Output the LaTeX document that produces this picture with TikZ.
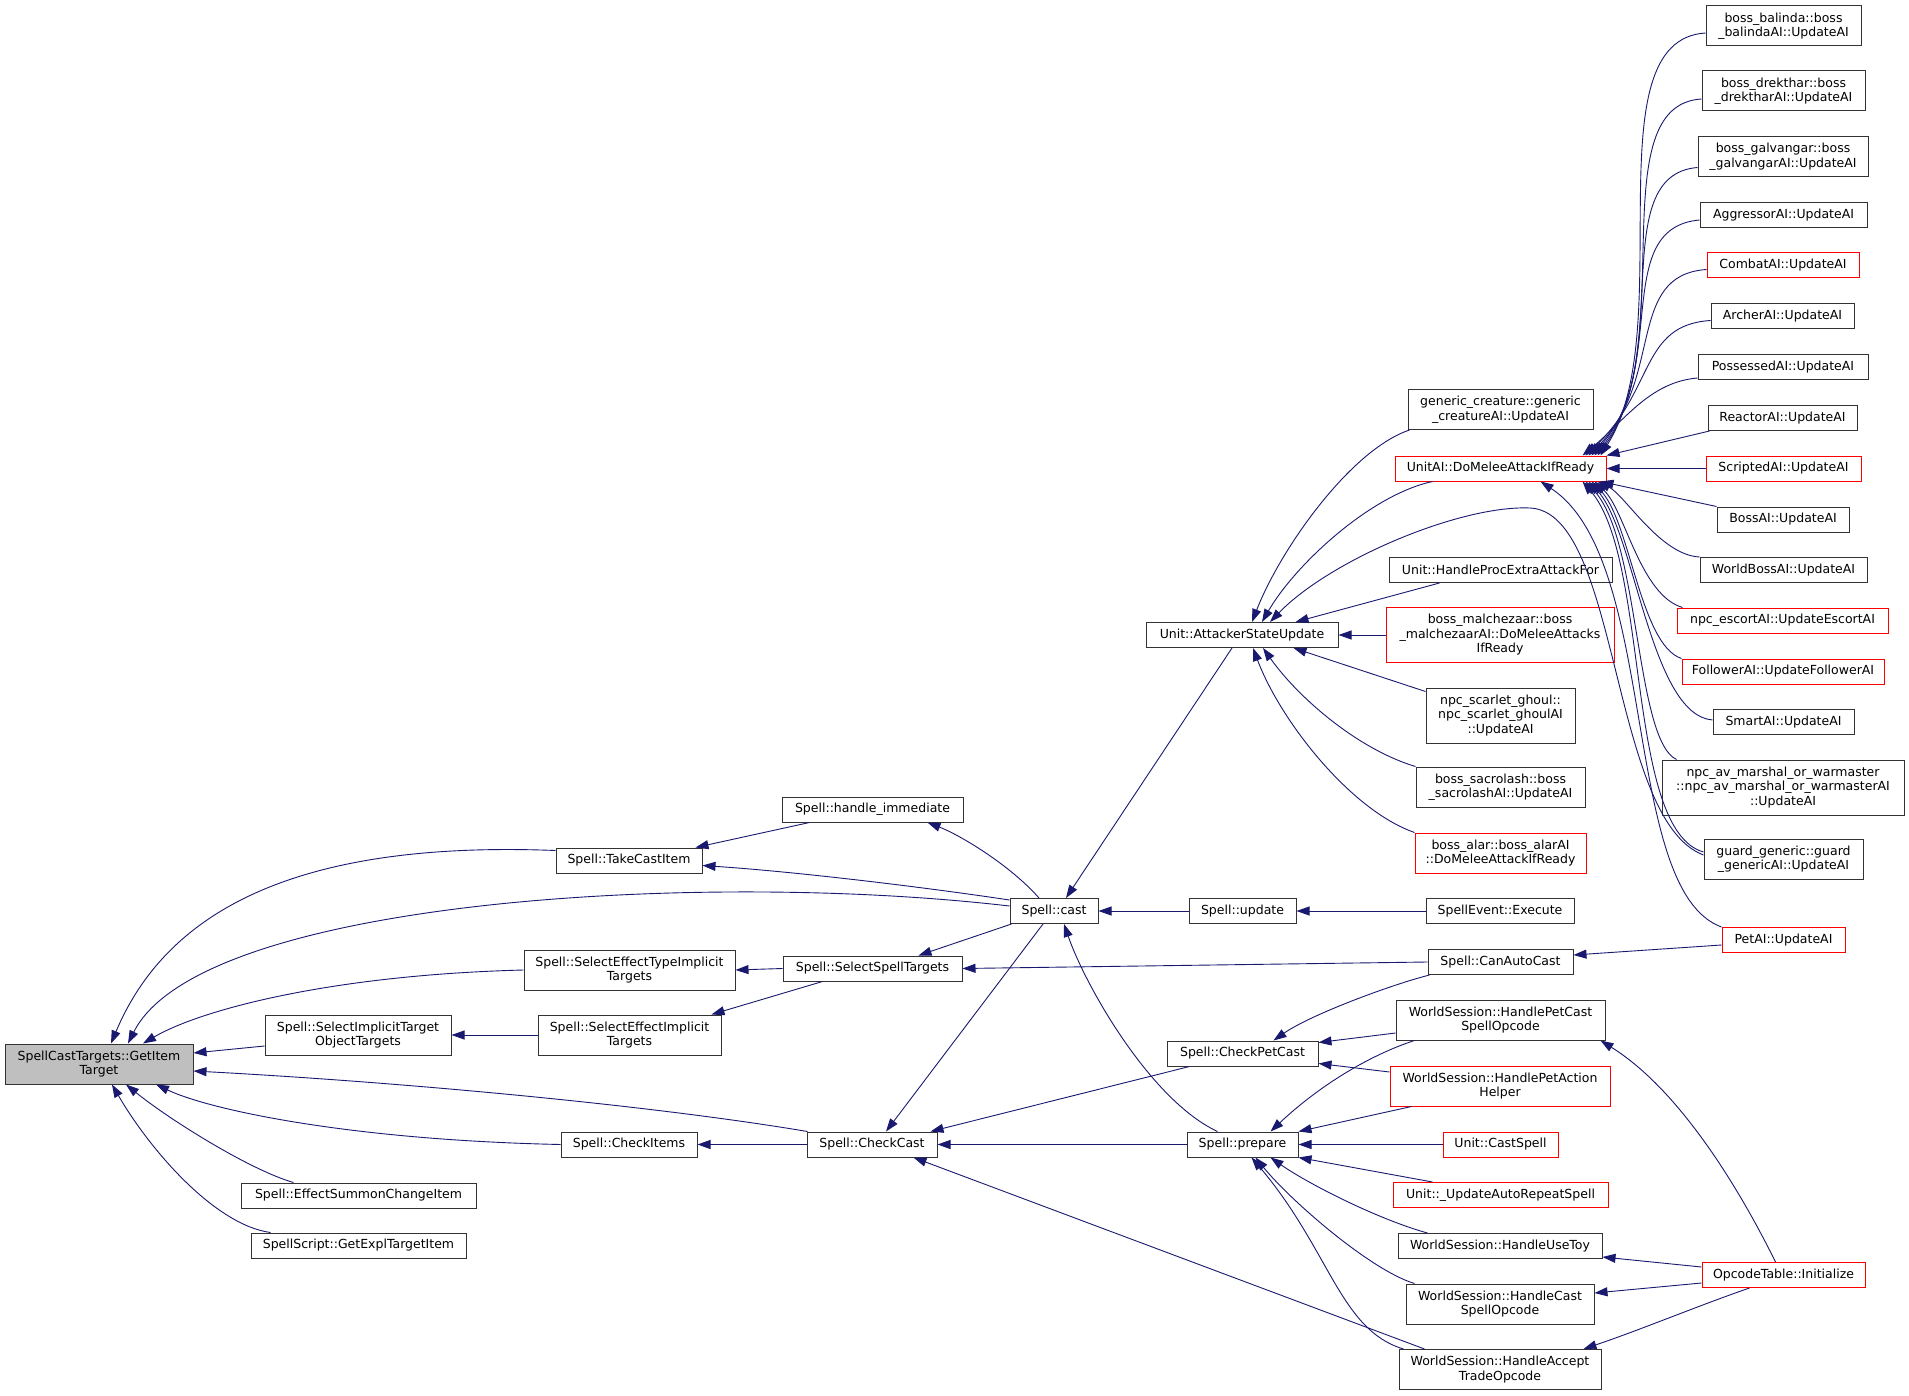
\documentclass[tikz,border=0pt]{standalone}
\usepackage{fontspec}
\setmainfont{DejaVu Sans}
\usetikzlibrary{arrows.meta}
\definecolor{edgeblue}{RGB}{25,25,112}
\tikzstyle{block} = [draw=black!80, line width=1pt, rectangle, minimum height=25pt, inner sep=0pt, align=center, font=\fontsize{12.5}{14.5}\selectfont]
\tikzstyle{redblock} = [block, draw=red]
\tikzstyle{rootblock} = [block, fill=black!25]
\tikzstyle{twoline} = [minimum height=40pt]
\tikzstyle{threeline} = [minimum height=55pt]
\tikzstyle{call} = [<-, draw=edgeblue, line width=0.9pt]

\begin{document}
\begin{tikzpicture}[x=1pt, y=1pt, >={Triangle[length=13pt,width=9pt]}]
        \useasboundingbox (0,0) rectangle (1909,-1396);
        \fill [white] (0,0) rectangle (1909,-1396);
        % 被调用的函数
        \node [rootblock, twoline, minimum width=188pt] (main) at (99,-1064) {SpellCastTargets::GetItem\\Target};
        % 第一层调用者
        \node [block, twoline, minimum width=186pt] (sito) at (358,-1035) {Spell::SelectImplicitTarget\\ObjectTargets};
        \node [block, minimum width=235pt] (summon) at (358.5,-1195.5) {Spell::EffectSummonChangeItem};
        \node [block, minimum width=215pt] (expl) at (358.5,-1245.5) {SpellScript::GetExplTargetItem};
        \node [block, minimum width=146pt] (take) at (629,-860.5) {Spell::TakeCastItem};
        \node [block, twoline, minimum width=211pt] (seti) at (629.5,-970) {Spell::SelectEffectTypeImplicit\\Targets};
        \node [block, twoline, minimum width=183pt] (sei) at (629.5,-1035) {Spell::SelectEffectImplicit\\Targets};
        \node [block, minimum width=136pt] (items) at (629,-1144.5) {Spell::CheckItems};
        % 第二层调用者
        \node [block, minimum width=181pt] (handle) at (872.5,-809.5) {Spell::handle\_immediate};
        \node [block, minimum width=179pt] (sst) at (872.5,-968.5) {Spell::SelectSpellTargets};
        \node [block, minimum width=130pt] (checkcast) at (872,-1144.5) {Spell::CheckCast};
        \node [block, minimum width=88pt] (cast) at (1054,-911) {Spell::cast};
        % 第三层调用者
        \node [block, minimum width=192pt] (asu) at (1242,-635) {Unit::AttackerStateUpdate};
        \node [block, minimum width=107pt] (update) at (1242.5,-911) {Spell::update};
        \node [block, minimum width=151pt] (cpc) at (1242.5,-1053.5) {Spell::CheckPetCast};
        \node [block, minimum width=111pt] (prepare) at (1242.5,-1144.5) {Spell::prepare};
        % 第四层调用者
        \node [block, twoline, minimum width=185pt] (gc) at (1500.5,-409.5) {generic\_creature::generic\\\_creatureAI::UpdateAI};
        \node [redblock, minimum width=211pt] (dma) at (1500.5,-468.5) {UnitAI::DoMeleeAttackIfReady};
        \node [block, minimum width=223pt] (hpe) at (1500.5,-570) {Unit::HandleProcExtraAttackFor};
        \node [redblock, threeline, minimum width=228pt] (malc) at (1500,-635) {boss\_malchezaar::boss\\\_malchezaarAI::DoMeleeAttacks\\IfReady};
        \node [block, threeline, minimum width=149pt] (ghoul) at (1500.5,-715.5) {npc\_scarlet\_ghoul::\\npc\_scarlet\_ghoulAI\\::UpdateAI};
        \node [block, twoline, minimum width=169pt] (sacro) at (1500.5,-787) {boss\_sacrolash::boss\\\_sacrolashAI::UpdateAI};
        \node [redblock, twoline, minimum width=171pt] (alar) at (1500.5,-853) {boss\_alar::boss\_alarAI\\::DoMeleeAttackIfReady};
        \node [block, minimum width=148pt] (exec) at (1500,-911) {SpellEvent::Execute};
        \node [block, minimum width=145pt] (autocast) at (1500.5,-962) {Spell::CanAutoCast};
        \node [block, twoline, minimum width=209pt] (hpcs) at (1500.5,-1020) {WorldSession::HandlePetCast\\SpellOpcode};
        \node [redblock, twoline, minimum width=220pt] (hpah) at (1500,-1086) {WorldSession::HandlePetAction\\Helper};
        \node [redblock, minimum width=115pt] (castspell) at (1500.5,-1144.5) {Unit::CastSpell};
        \node [redblock, minimum width=215pt] (autorep) at (1500.5,-1195) {Unit::\_UpdateAutoRepeatSpell};
        \node [block, minimum width=204pt] (toy) at (1500,-1246) {WorldSession::HandleUseToy};
        \node [block, twoline, minimum width=188pt] (hcs) at (1500,-1304) {WorldSession::HandleCast\\SpellOpcode};
        \node [block, twoline, minimum width=202pt] (hat) at (1500,-1369.5) {WorldSession::HandleAccept\\TradeOpcode};
        % 最右一列
        \node [block, twoline, minimum width=155pt] (balinda) at (1783.5,-26) {boss\_balinda::boss\\\_balindaAI::UpdateAI};
        \node [block, twoline, minimum width=163pt] (drek) at (1783.5,-91) {boss\_drekthar::boss\\\_drektharAI::UpdateAI};
        \node [block, twoline, minimum width=170pt] (galv) at (1783,-156.5) {boss\_galvangar::boss\\\_galvangarAI::UpdateAI};
        \node [block, minimum width=167pt] (aggr) at (1783.5,-215) {AggressorAI::UpdateAI};
        \node [redblock, minimum width=152pt] (combat) at (1783,-265.5) {CombatAI::UpdateAI};
        \node [block, minimum width=143pt] (archer) at (1782.5,-316.5) {ArcherAI::UpdateAI};
        \node [block, minimum width=170pt] (poss) at (1783,-367) {PossessedAI::UpdateAI};
        \node [block, minimum width=149pt] (reactor) at (1782.5,-418) {ReactorAI::UpdateAI};
        \node [redblock, minimum width=155pt] (scripted) at (1783.5,-468.5) {ScriptedAI::UpdateAI};
        \node [block, minimum width=132pt] (boss) at (1783,-519.5) {BossAI::UpdateAI};
        \node [block, minimum width=167pt] (wboss) at (1783.5,-570) {WorldBossAI::UpdateAI};
        \node [redblock, minimum width=211pt] (escort) at (1782.5,-620.5) {npc\_escortAI::UpdateEscortAI};
        \node [redblock, minimum width=202pt] (follower) at (1783,-671.5) {FollowerAI::UpdateFollowerAI};
        \node [block, minimum width=141pt] (smart) at (1783.5,-722) {SmartAI::UpdateAI};
        \node [block, threeline, minimum width=242pt] (marshal) at (1783,-787.5) {npc\_av\_marshal\_or\_warmaster\\::npc\_av\_marshal\_or\_warmasterAI\\::UpdateAI};
        \node [block, twoline, minimum width=159pt] (guard) at (1783.5,-859) {guard\_generic::guard\\\_genericAI::UpdateAI};
        \node [redblock, minimum width=123pt] (petai) at (1783.5,-940) {PetAI::UpdateAI};
        \node [redblock, minimum width=163pt] (opcode) at (1783.5,-1275) {OpcodeTable::Initialize};
        % 调用 GetItemTarget 的边
        \draw [call] ([xshift=12pt]main.north) .. controls (165,-915) and (290,-840) .. ([yshift=10pt]take.west);
        \draw [call] ([xshift=29pt]main.north) .. controls (200,-900) and (700,-870) .. ([yshift=5pt]cast.west);
        \draw [call] ([xshift=44pt]main.north) .. controls (200,-1010) and (330,-975) .. (seti.west);
        \draw [call] ([yshift=11pt]main.east) -- ([yshift=-11pt]sito.west);
        \draw [call] ([yshift=-7pt]main.east) .. controls (400,-1082) and (650,-1105) .. ([xshift=1pt]checkcast.north west);
        \draw [call] ([xshift=57pt]main.south) .. controls (210,-1110) and (350,-1140) .. (items.west);
        \draw [call] ([xshift=27pt]main.south) .. controls (170,-1120) and (250,-1170) .. ([xshift=-65pt]summon.north);
        \draw [call] ([xshift=13pt]main.south) .. controls (150,-1150) and (215,-1225) .. ([xshift=-88pt]expl.north);
        % 第二层的边
        \draw [call] ([xshift=-7pt]take.north east) -- ([xshift=28pt]handle.south west);
        \draw [call] ([yshift=-5pt]take.east) .. controls (800,-872) and (930,-888) .. ([yshift=11pt]cast.west);
        \draw [call] ([xshift=55pt]handle.south) .. controls (960,-835) and (1010,-865) .. ([xshift=-15pt]cast.north);
        \draw [call] (seti.east) -- (sst.west);
        \draw [call] ([xshift=-10pt]sei.north east) -- ([xshift=40pt]sst.south west);
        \draw [call] (sito.east) -- (sei.west);
        \draw [call] (items.east) -- (checkcast.west);
        \draw [call] ([xshift=-44pt]sst.north east) -- ([xshift=2pt]cast.south west);
        \draw [call] (sst.east) -- (autocast.west);
        \draw [call] (cast.east) -- (update.west);
        \draw [call] ([xshift=12pt]cast.north) -- ([xshift=-10pt]asu.south);
        \draw [call] ([xshift=14pt]checkcast.north) -- ([xshift=-11pt]cast.south);
        \draw [call] ([xshift=10pt]cast.south) .. controls (1085,-985) and (1150,-1100) .. ([xshift=-25pt]prepare.north);
        \draw [call] ([xshift=-7pt]checkcast.north east) -- ([xshift=23pt]cpc.south west);
        \draw [call] (checkcast.east) -- (prepare.west);
        \draw [call] ([xshift=-24pt]checkcast.south east) -- ([xshift=26pt]hat.north west);
        % AttackerStateUpdate 的调用者
        \draw [call] ([xshift=10pt]asu.north) .. controls (1280,-550) and (1350,-450) .. ([xshift=2pt]gc.south west);
        \draw [call] ([xshift=20pt]asu.north) .. controls (1295,-565) and (1370,-495) .. ([xshift=38pt]dma.south west);
        \draw [call] ([xshift=28pt]asu.north) .. controls (1330,-560) and (1460,-505) .. (1530,-508) .. controls (1620,-512) and (1610,-820) .. ([yshift=4pt]guard.west);
        \draw [call] ([xshift=-43pt]asu.north east) -- ([xshift=51pt]hpe.south west);
        \draw [call] (asu.east) -- (malc.west);
        \draw [call] ([xshift=-45pt]asu.south east) -- ([yshift=-4pt]ghoul.north west);
        \draw [call] ([xshift=21pt]asu.south) .. controls (1300,-700) and (1360,-750) .. (sacro.north west);
        \draw [call] ([xshift=11pt]asu.south) .. controls (1280,-720) and (1350,-810) .. (alar.north west);
        \draw [call] (update.east) -- (exec.west);
        % CheckPetCast 与 prepare 的调用者
        \draw [call] ([xshift=31pt]cpc.north) .. controls (1310,-1015) and (1390,-985) .. ([xshift=2pt]autocast.south west);
        \draw [call] ([yshift=11pt]cpc.east) -- ([yshift=-13pt]hpcs.west);
        \draw [call] ([yshift=-10pt]cpc.east) -- ([yshift=14pt]hpah.west);
        \draw [call] ([xshift=-28pt]prepare.north east) .. controls (1320,-1085) and (1370,-1055) .. ([xshift=19pt]hpcs.south west);
        \draw [call] (prepare.north east) -- ([xshift=22pt]hpah.south west);
        \draw [call] (prepare.east) -- (castspell.west);
        \draw [call] (prepare.south east) -- ([xshift=40pt]autorep.north west);
        \draw [call] ([xshift=28pt]prepare.south) .. controls (1310,-1185) and (1380,-1220) .. ([xshift=30pt]toy.north west);
        \draw [call] ([xshift=13pt]prepare.south) .. controls (1290,-1200) and (1370,-1270) .. ([xshift=9pt]hcs.north west);
        \draw [call] ([xshift=9pt]prepare.south) .. controls (1330,-1250) and (1340,-1330) .. ([xshift=5pt]hat.north west);
        % OpcodeTable 与 PetAI
        \draw [call] ([xshift=-5pt]hpcs.south east) .. controls (1680,-1090) and (1740,-1190) .. ([xshift=-8pt]opcode.north);
        \draw [call] ([yshift=-11pt]toy.east) -- ([yshift=8pt]opcode.west);
        \draw [call] ([yshift=11pt]hcs.east) -- ([yshift=-8pt]opcode.west);
        \draw [call] ([xshift=-18pt]hat.north east) .. controls (1640,-1330) and (1700,-1305) .. ([xshift=-34pt]opcode.south);
        \draw [call] ([yshift=7pt]autocast.east) -- ([yshift=-5pt]petai.west);
        % DoMeleeAttackIfReady 的调用者
        \draw [call] (dma.east) -- (scripted.west);
        \draw [call] (dma.north east) -- ([xshift=2pt]reactor.south west);
        \draw [call] ([xshift=-6pt]dma.north east) .. controls (1680,-330) and (1590,-40) .. ([yshift=-7pt]balinda.west);
        \draw [call] ([xshift=-9pt]dma.north east) .. controls (1680,-345) and (1600,-105) .. ([yshift=-8pt]drek.west);
        \draw [call] ([xshift=-12pt]dma.north east) .. controls (1675,-360) and (1605,-175) .. ([yshift=-11pt]galv.west);
        \draw [call] ([xshift=-15pt]dma.north east) .. controls (1670,-370) and (1610,-228) .. ([yshift=-5pt]aggr.west);
        \draw [call] ([xshift=-18pt]dma.north east) .. controls (1665,-380) and (1625,-275) .. ([yshift=-4pt]combat.west);
        \draw [call] ([xshift=-21pt]dma.north east) .. controls (1655,-390) and (1640,-325) .. ([yshift=-4pt]archer.west);
        \draw [call] ([xshift=-24pt]dma.north east) .. controls (1625,-420) and (1650,-382) .. ([yshift=-11pt]poss.west);
        \draw [call] ([xshift=-6pt]dma.south east) -- (boss.north west);
        \draw [call] ([xshift=-9pt]dma.south east) .. controls (1625,-495) and (1660,-555) .. (wboss.north west);
        \draw [call] ([xshift=-12pt]dma.south east) .. controls (1625,-510) and (1640,-595) .. ([xshift=6pt]escort.north west);
        \draw [call] ([xshift=-15pt]dma.south east) .. controls (1630,-520) and (1640,-645) .. (follower.north west);
        \draw [call] ([xshift=-18pt]dma.south east) .. controls (1635,-530) and (1650,-715) .. ([yshift=2pt]smart.west);
        \draw [call] ([xshift=-21pt]dma.south east) .. controls (1640,-540) and (1635,-740) .. ([xshift=15pt]marshal.north west);
        \draw [call] ([xshift=-24pt]dma.south east) .. controls (1650,-560) and (1625,-830) .. ([yshift=7pt]guard.west);
        \draw [call] ([xshift=40pt]dma.south) .. controls (1660,-560) and (1620,-890) .. (petai.north west);
\end{tikzpicture}
\end{document}
